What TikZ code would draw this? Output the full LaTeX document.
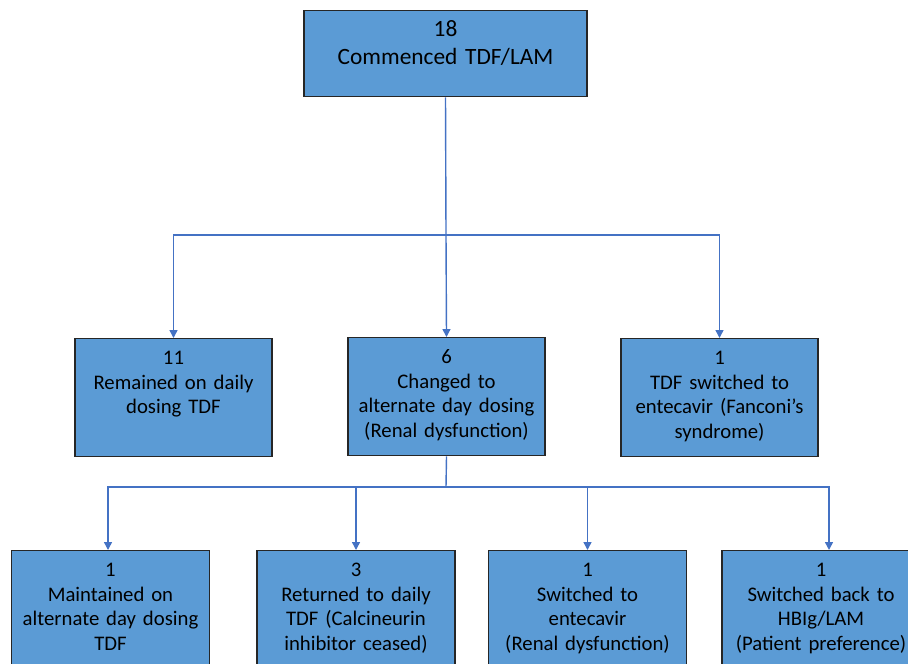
\documentclass[tikz,border=0pt]{standalone}
\usepackage{fontspec}
\setmainfont{Carlito}
\usepackage{tikz}
\usetikzlibrary{arrows.meta,positioning}

\definecolor{boxblue}{HTML}{5B9BD5}
\definecolor{lineblue}{HTML}{4472C4}

\begin{document}
\begin{tikzpicture}[x=0.02cm, y=-0.02cm,
        box/.style={draw=black!85, line width=0.8pt, fill=boxblue, align=center, inner sep=0pt,
        anchor=north, text height=0.52cm, font=\fontsize{11.8}{14}\selectfont},
        box2/.style={box, text width=3.94cm, text depth=1.84cm},
        box3/.style={box, text width=3.96cm, text depth=2.3cm},
        link/.style={draw=lineblue, line width=0.8pt},
        arr/.style={link, -{Triangle[width=4.5pt,length=4.5pt]}}]

        \useasboundingbox (0,0) rectangle (908,663);
        \clip (0,0) rectangle (908,663);

        \node[box, text width=5.66cm, text depth=1.20cm, font=\fontsize{13.3}{16}\selectfont] (start) at (445.5,10) {18\\Commenced TDF/LAM};

        \node[box2] (daily) at (173.5,338) {11\\Remained on daily\\dosing TDF};
        \node[box2] (alt) at (446.5,337) {6\\Changed to\\alternate day dosing\\(Renal dysfunction)};
        \node[box2] (fanconi) at (719.5,338) {1\\TDF switched to\\entecavir (Fanconi’s\\syndrome)};

        \node[box3] (kept) at (110.5,550) {1\\Maintained on\\alternate day dosing\\TDF};
        \node[box3] (back) at (356,550) {3\\Returned to daily\\TDF (Calcineurin\\inhibitor ceased)};
        \node[box3] (etv) at (587.5,550) {1\\Switched to\\entecavir\\(Renal dysfunction)};
        \node[box3] (hbig) at (821,550) {1\\Switched back to\\HBIg/LAM\\(Patient preference)};

        \coordinate (fork1) at (446,235);
        \coordinate (fork2) at (446,487);

        \draw[link] (start.south) -- (fork1);
        \draw[arr] (fork1) -| (daily.north);
        \draw[arr] (fork1) -- (alt.north);
        \draw[arr] (fork1) -| (fanconi.north);

        \draw[link] (alt.south) -- (fork2);
        \draw[arr] (fork2) -| ([xshift=-0.05cm]kept.north);
        \draw[arr] (fork2) -| (back.north);
        \draw[arr] (fork2) -| (etv.north);
        \draw[arr] (fork2) -| ([xshift=0.16cm]hbig.north);

    \end{tikzpicture}
\end{document}
